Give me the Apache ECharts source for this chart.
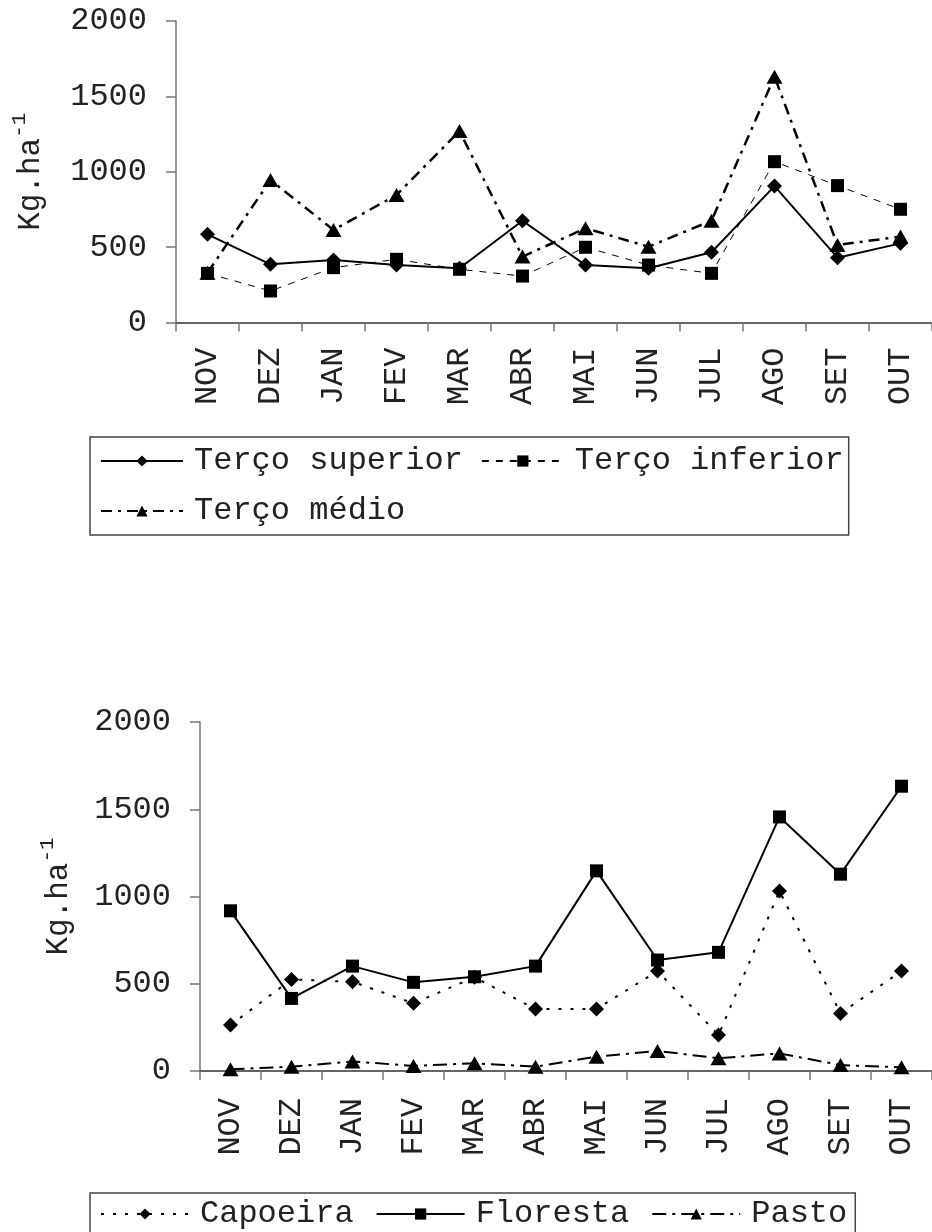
<!DOCTYPE html>
<html>
<head>
<meta charset="utf-8">
<script src="https://cdn.jsdelivr.net/npm/echarts@6/dist/echarts.min.js"></script>
<style>html,body{margin:0;padding:0;background:#fff}#c{width:932px;height:1232px}</style>
</head>
<body>
<div id="c"></div>
<script>
const categories = ['NOV','DEZ','JAN','FEV','MAR','ABR','MAI','JUN','JUL','AGO','SET','OUT'];
const tercoSuperior = [585,386,415,381,360,675,381,360,466,905,430,525];
const tercoInferior = [326,209,364,419,353,308,499,381,326,1067,908,751];
const tercoMedio = [330,945,614,846,1270,437,625,503,675,1631,514,570];
const capoeira = [263,525,511,388,537,355,355,573,206,1031,330,573];
const floresta = [918,416,601,508,540,601,1147,636,680,1456,1128,1632];
const pasto = [10,25,55,29,44,25,82,115,73,101,34,21];
const yMin = 0, yMax = 2000, yStep = 500;

const FONT = 'Liberation Mono';
const TXT = '#222';
const AX = '#777';

function yAxis(gridIndex, gap){
  return {
    gridIndex, type:'value', min:yMin, max:yMax, interval:yStep,
    splitLine:{show:false},
    axisLine:{show:true, lineStyle:{color:AX, width:1.5}},
    axisTick:{show:true, length:10, lineStyle:{color:AX, width:1.5}},
    axisLabel:{fontFamily:FONT, fontSize:32, color:TXT, margin:29, formatter:function(v){return String(v);}},
    name:'{a|Kg.ha}{b|-1}', nameLocation:'middle', nameRotate:90, nameGap:gap,
    nameTextStyle:{fontFamily:FONT, color:TXT, rich:{
      a:{fontFamily:FONT, fontSize:31, color:TXT, lineHeight:44},
      b:{fontFamily:FONT, fontSize:21, color:TXT, lineHeight:20, verticalAlign:'top'}
    }}
  };
}
function xAxis(gridIndex, margin){
  return {
    gridIndex, type:'category', data:categories, boundaryGap:true,
    axisLine:{show:true, lineStyle:{color:'#333', width:1.5}},
    axisTick:{show:true, length:9, lineStyle:{color:AX, width:1.5}},
    axisLabel:{fontFamily:FONT, fontSize:32, color:TXT, rotate:90, margin:margin, interval:0}
  };
}
function line(name, data, xi, symbol, size, ls){
  return {
    name, type:'line', data, xAxisIndex:xi, yAxisIndex:xi,
    symbol, symbolSize:size, showSymbol:true,
    itemStyle:{color:'#000'},
    lineStyle:Object.assign({color:'#000'}, ls),
    emphasis:{disabled:true}
  };
}
const legendBase = {
  orient:'horizontal', itemWidth:82, itemHeight:14, itemGap:18,
  borderColor:'#444', borderWidth:1.5,
  textStyle:{fontFamily:FONT, fontSize:32, color:TXT, padding:[0,6,0,6]}
};
const option = {
  animation:false,
  backgroundColor:'#fff',
  grid:[
    {left:176, top:21, height:301.5, right:-7},
    {left:200, top:722, height:349, right:-8}
  ],
  xAxis:[xAxis(0,25), xAxis(1,27)],
  yAxis:[yAxis(0,123), yAxis(1,119)],
  legend:[
    Object.assign({}, legendBase, {data:['Terço superior','Terço inferior','Terço médio'], left:90, top:437, width:760, padding:[8,5,8,10]}),
    Object.assign({}, legendBase, {data:['Capoeira','Floresta','Pasto'], left:90, top:1193, width:800, itemGap:22, itemWidth:88, padding:[5,8,8,10]})
  ],
  series:[
    line('Terço superior', tercoSuperior, 0, 'diamond', 15, {type:'solid', width:2}),
    line('Terço inferior', tercoInferior, 0, 'rect', 13, {type:[7,7], width:1}),
    line('Terço médio', tercoMedio, 0, 'triangle', [16,14], {type:[11,6,3,6], width:2.5}),
    line('Capoeira', capoeira, 1, 'diamond', 15, {type:[3,9], width:2}),
    line('Floresta', floresta, 1, 'rect', 13, {type:'solid', width:2}),
    line('Pasto', pasto, 1, 'triangle', [16,14], {type:[14,6,3,6], width:2})
  ]
};
const chart = echarts.init(document.getElementById('c'), null, {renderer:'canvas'});
chart.setOption(option);
</script>
</body>
</html>
